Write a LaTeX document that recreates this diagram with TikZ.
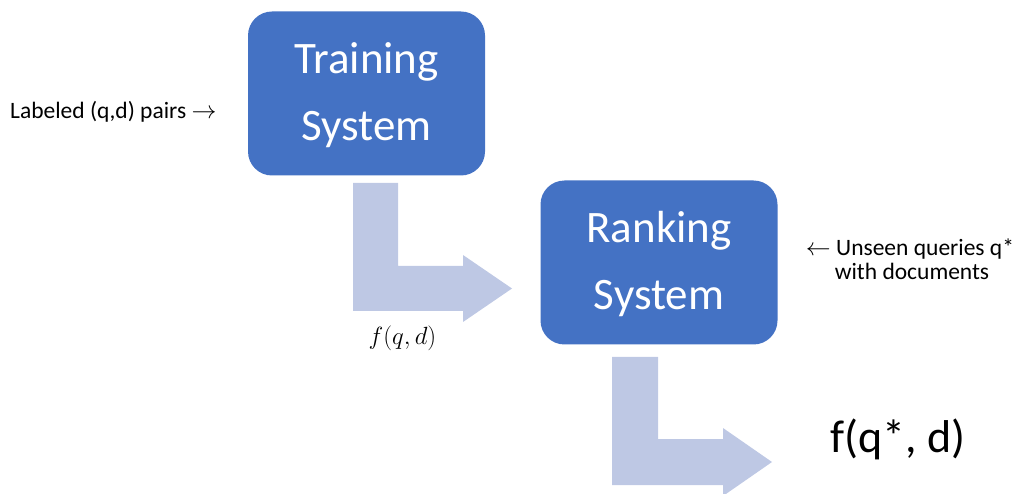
\documentclass[tikz,border=0pt]{standalone}
\usepackage{fontspec}
\setmainfont{Carlito}
\definecolor{boxblue}{RGB}{68,114,196}
\definecolor{flowblue}{RGB}{190,200,228}
\newcommand{\rarr}{{\fontsize{24}{24}\selectfont$\rightarrow$}}
\newcommand{\larr}{{\fontsize{24}{24}\selectfont$\leftarrow$}}
\begin{document}
\begin{tikzpicture}[x=1pt,y=-1pt,
  sysbox/.style={fill=boxblue, draw=none, rounded corners=24pt,
    minimum width=237pt, minimum height=164pt, inner sep=0pt},
  systext/.style={text=white, inner sep=0pt, anchor=base, font=\fontsize{45}{54}\selectfont},
  flow/.style={fill=flowblue, draw=none},
  note/.style={inner sep=0pt, anchor=base, font=\fontsize{23.5}{28}\selectfont}]
\useasboundingbox (0,0) rectangle (1018,494);

% the two systems
\node[sysbox] (train) at (366.5,93.5) {};
\node[systext] (trainA) at ([yshift=20pt]train.center) {Training};
\node[systext] (trainB) at ([yshift=-47pt]train.center) {System};
\node[sysbox] (rank) at (659,262.5) {};
\node[systext] (rankA) at ([yshift=20pt]rank.center) {Ranking};
\node[systext] (rankB) at ([yshift=-47pt]rank.center) {System};

% bent flow arrows
\fill[flow] (353,183) -- (398,183) -- (398,266) -- (463,266) -- (463,255)
  -- (512,288.5) -- (463,322) -- (463,311) -- (353,311) -- cycle;
\fill[flow] (612,357) -- (658,357) -- (658,439) -- (723,439) -- (723,428)
  -- (772,462) -- (723,496) -- (723,485) -- (612,485) -- cycle;

% labels
\node[note, text depth=0pt] (queries) at (910,256) {\larr{} Unseen queries q*};
\node[note, text height=14pt] (docs) at (912,280) {with documents};
\node[note, anchor=base west] (pairs) at (10,119) {Labeled (q,d) pairs \rarr};
\node[inner sep=0pt, anchor=base, font=\fontsize{23}{26}\selectfont] (fqd) at (402.5,345) {$f(q,d)$};
\node[inner sep=0pt, anchor=base west, font=\fontsize{46}{52}\selectfont] (out) at (830,453) {f(q*, d)};
\end{tikzpicture}
\end{document}
